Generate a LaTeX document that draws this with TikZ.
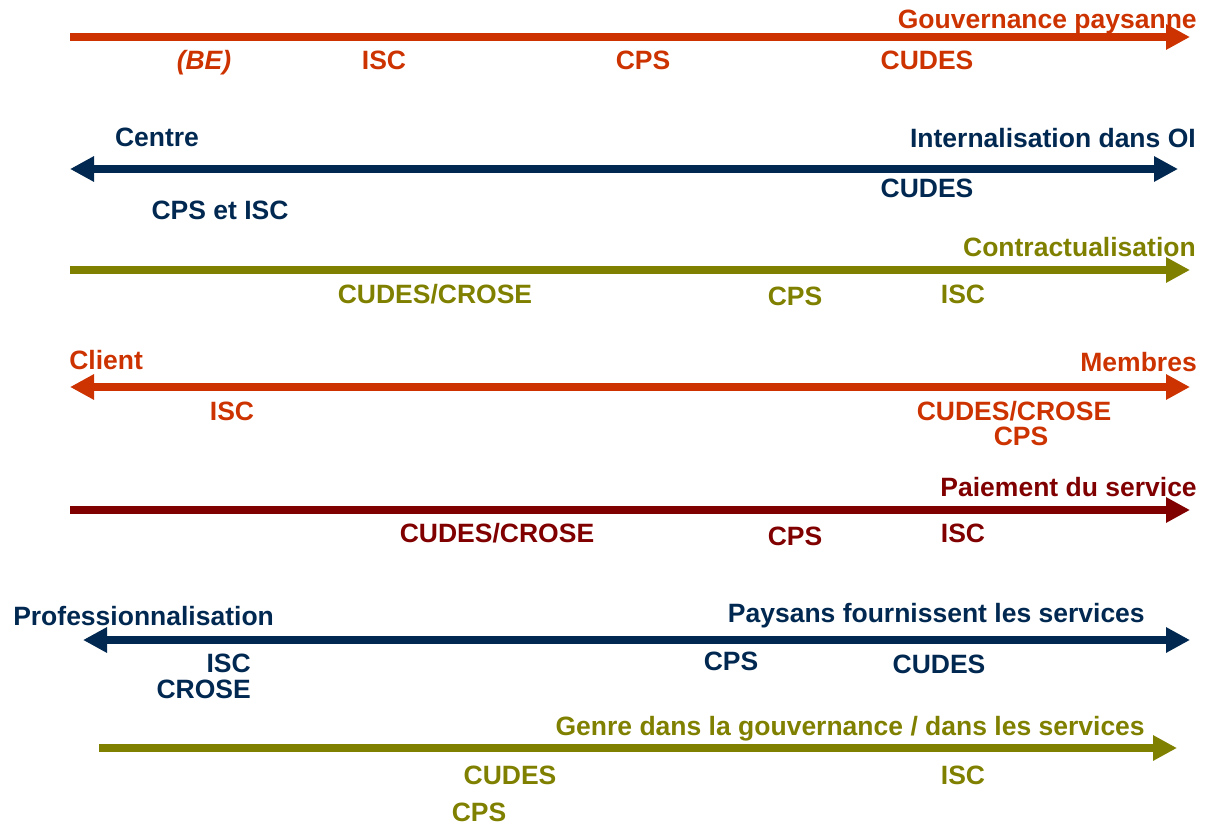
\documentclass[tikz,border=0pt]{standalone}
\usepackage{fontspec}
\setmainfont{Liberation Sans}
\usepackage{tikz}
\usetikzlibrary{arrows.meta}

\definecolor{rouille}{RGB}{204,51,0}
\definecolor{marine}{RGB}{0,40,80}
\definecolor{olive}{RGB}{128,128,0}
\definecolor{bordeaux}{RGB}{128,0,0}

\begin{document}
\begin{tikzpicture}[x=1pt, y=-1pt, line width=8.5pt,
    lbl/.style = {anchor=base, inner sep=0pt, font=\fontsize{26.5}{30}\selectfont\bfseries},
    lblR/.style = {lbl, anchor=base east},
    lblL/.style = {lbl, anchor=base west},
    fin/.style = {-{Triangle[length=24pt,width=24pt]}},
    duo/.style = {{Triangle[length=24pt,width=24pt]}-{Triangle[length=24pt,width=24pt]}}]

    \useasboundingbox (0,0) rectangle (1209,826);

    % Gouvernance paysanne
    \coordinate (a1) at (70,37);
    \coordinate (b1) at (1190,37);
    \draw[fin, rouille] (a1) -- (b1);
    \node[lblR, rouille] (t1) at (1201,29) {Gouvernance paysanne};
    \node[lbl, rouille] (be) at (204,70) {\itshape (BE)};
    \node[lbl, rouille] (isc1) at (384,70) {ISC};
    \node[lbl, rouille] (cps1) at (643,70) {CPS};
    \node[lbl, rouille] (cud1) at (927,70) {CUDES};

    % Centre / Internalisation
    \coordinate (a2) at (70,169);
    \coordinate (b2) at (1178,169);
    \draw[duo, marine] (a2) -- (b2);
    \node[lbl, marine] (t2a) at (157,147) {Centre};
    \node[lblR, marine] (t2b) at (1200,148) {Internalisation dans OI};
    \node[lbl, marine] (cud2) at (927,198) {CUDES};
    \node[lbl, marine] (cps2) at (220,220) {CPS et ISC};

    % Contractualisation
    \coordinate (a3) at (70,270);
    \coordinate (b3) at (1190,270);
    \draw[fin, olive] (a3) -- (b3);
    \node[lblR, olive] (t3) at (1200,257) {Contractualisation};
    \node[lbl, olive] (cc3) at (435,303) {CUDES/CROSE};
    \node[lbl, olive] (cps3) at (795,305) {CPS};
    \node[lbl, olive] (isc3) at (963,303) {ISC};

    % Client / Membres
    \coordinate (a4) at (70,387);
    \coordinate (b4) at (1190,387);
    \draw[duo, rouille] (a4) -- (b4);
    \node[lblL, rouille] (t4a) at (65,369) {Client};
    \node[lblR, rouille] (t4b) at (1201,371) {Membres};
    \node[lbl, rouille] (isc4) at (232,420) {ISC};
    \node[lbl, rouille] (cc4) at (1014,420) {CUDES/CROSE};
    \node[lbl, rouille] (cps4) at (1021,445) {CPS};

    % Paiement du service
    \coordinate (a5) at (70,510);
    \coordinate (b5) at (1190,510);
    \draw[fin, bordeaux] (a5) -- (b5);
    \node[lblR, bordeaux] (t5) at (1201,496) {Paiement du service};
    \node[lbl, bordeaux] (cc5) at (497,542) {CUDES/CROSE};
    \node[lbl, bordeaux] (cps5) at (795,545) {CPS};
    \node[lbl, bordeaux] (isc5) at (963,542) {ISC};

    % Professionnalisation / Paysans
    \coordinate (a6) at (83,640);
    \coordinate (b6) at (1190,640);
    \draw[duo, marine] (a6) -- (b6);
    \node[lblL, marine] (t6a) at (9,625) {Professionnalisation};
    \node[lblR, marine] (t6b) at (1149,622) {Paysans fournissent les services};
    \node[lblR, marine] (isc6) at (255,672) {ISC};
    \node[lblR, marine] (cro6) at (255,698) {CROSE};
    \node[lbl, marine] (cps6) at (731,670) {CPS};
    \node[lbl, marine] (cud6) at (939,673) {CUDES};

    % Genre
    \coordinate (a7) at (99,748);
    \coordinate (b7) at (1177,748);
    \draw[fin, olive] (a7) -- (b7);
    \node[lblR, olive] (t7) at (1149,735) {Genre dans la gouvernance / dans les services};
    \node[lbl, olive] (cud7) at (510,784) {CUDES};
    \node[lbl, olive] (cps7) at (479,821) {CPS};
    \node[lbl, olive] (isc7) at (963,784) {ISC};

\end{tikzpicture}
\end{document}
